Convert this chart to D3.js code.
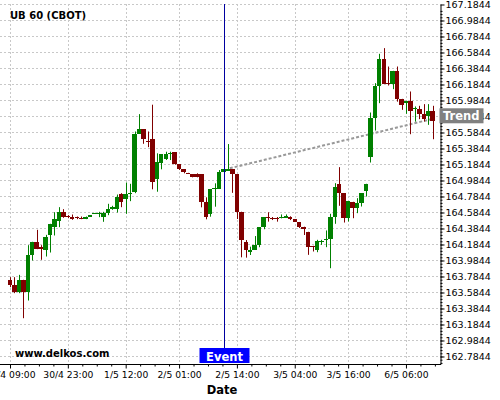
<!DOCTYPE html>
<html>
<head>
<meta charset="utf-8">
<script src="https://cdn.jsdelivr.net/npm/d3@7"></script>
<style>
body { margin: 0; background: #fff; }
text { font-family: "DejaVu Sans", sans-serif; }
</style>
</head>
<body>
<div id="chart"></div>
<script>
// candle values (hourly bars, index based x axis)
var opens = [163.743,163.684,163.592,163.743,163.592,164.055,164.218,164.155,164.118,164.309,
  164.409,164.472,164.593,164.543,164.534,164.526,164.518,164.509,164.534,164.576,
  164.576,164.534,164.576,164.634,164.634,164.818,164.759,164.826,164.843,165.568,
  165.626,165.476,165.503,165.003,165.199,165.253,165.318,165.337,165.191,165.128,
  165.078,165.065,165.065,165.065,164.719,164.565,164.882,164.878,165.094,165.103,
  165.124,165.065,164.594,164.216,164.094,164.119,164.178,164.403,164.528,164.520,
  164.520,164.511,164.520,164.528,164.503,164.466,164.407,164.343,164.168,164.117,
  164.228,164.247,164.251,164.534,164.943,164.826,164.513,164.718,164.638,164.701,
  164.847,165.284,165.763,166.168,166.505,166.205,166.193,166.355,166.005,165.951,
  165.980,165.880,165.876,165.818,165.793,165.855];
var highs = [163.776,163.776,163.805,163.743,164.176,164.218,164.368,164.176,164.305,164.443,
  164.588,164.651,164.626,164.551,164.559,164.534,164.534,164.534,164.550,164.580,
  164.593,164.593,164.693,164.668,164.809,164.826,164.959,164.943,165.597,165.814,
  165.626,165.597,165.932,165.324,165.312,165.344,165.344,165.337,165.191,165.128,
  165.080,165.065,165.074,165.065,164.774,164.878,164.949,165.115,165.128,165.440,
  165.124,165.065,164.594,164.240,164.157,164.290,164.403,164.528,164.587,164.528,
  164.528,164.560,164.560,164.537,164.503,164.466,164.407,164.343,164.168,164.243,
  164.243,164.360,164.568,164.951,165.151,164.826,164.722,164.718,164.763,164.826,
  164.943,165.834,166.201,166.568,166.639,166.409,166.355,166.409,166.005,165.980,
  166.097,165.910,165.918,165.939,165.939,165.918];
var lows = [163.651,163.576,163.576,163.263,163.484,163.984,164.126,163.993,164.034,164.084,
  164.297,164.401,164.518,164.513,164.493,164.501,164.501,164.501,164.530,164.574,
  164.526,164.468,164.551,164.618,164.584,164.651,164.568,164.726,164.826,165.568,
  165.443,165.401,164.874,164.844,165.124,165.241,165.240,165.182,165.116,165.074,
  165.070,165.024,165.024,164.649,164.499,164.532,164.657,164.878,165.094,165.103,
  164.830,164.503,164.024,164.020,164.053,164.119,164.150,164.375,164.470,164.490,
  164.470,164.511,164.520,164.490,164.466,164.390,164.303,164.055,164.097,164.088,
  164.180,164.151,163.888,164.443,164.668,164.459,164.472,164.513,164.576,164.659,
  164.784,165.209,165.609,165.951,166.193,166.172,166.126,165.970,165.868,165.818,
  165.563,165.720,165.751,165.722,165.680,165.500];
var closes = [163.684,163.592,163.743,163.592,164.055,164.218,164.126,164.126,164.284,164.443,
  164.509,164.593,164.534,164.530,164.509,164.513,164.509,164.534,164.547,164.578,
  164.578,164.576,164.634,164.651,164.776,164.718,164.818,164.834,165.568,165.626,
  165.509,165.468,164.969,165.219,165.312,165.312,165.324,165.191,165.128,165.090,
  165.074,165.032,165.032,164.719,164.532,164.878,164.887,165.094,165.128,165.128,
  165.065,164.594,164.241,164.119,164.119,164.178,164.403,164.528,164.511,164.507,
  164.507,164.528,164.537,164.503,164.466,164.407,164.374,164.159,164.159,164.222,
  164.232,164.251,164.534,164.909,164.826,164.513,164.722,164.638,164.701,164.826,
  164.943,165.763,166.168,166.505,166.193,166.200,166.355,166.005,165.922,165.980,
  165.859,165.893,165.818,165.755,165.855,165.734];

var xTickIndex = [0, 13, 26, 38, 51, 64, 76, 89];
var xTickLabels = ["30/4 09:00", "30/4 23:00", "1/5 12:00", "2/5 01:00", "2/5 14:00", "3/5 04:00", "3/5 16:00", "6/5 06:00"];
var yTickValues = [162.7844, 162.9844, 163.1844, 163.3844, 163.5844, 163.7844, 163.9844, 164.1844,
  164.3844, 164.5844, 164.7844, 164.9844, 165.1844, 165.3844, 165.5844, 165.7844, 165.9844,
  166.1844, 166.3844, 166.5844, 166.7844, 166.9844, 167.1844];

var eventIndex = 48;
var trendIndex = [49.4, 95.5];
var trendPrice = [165.137, 165.762];

var width = 500, height = 400,
    plotLeft = 0, plotRight = 440, plotTop = 4, plotBottom = 364;

var svg = d3.select("#chart").append("svg")
    .attr("width", width)
    .attr("height", height);

var xScale = d3.scaleLinear().domain([0, 95]).range([10, 432.66]);
var yScale = d3.scaleLinear().domain([162.6906, 167.1906]).range([plotBottom, plotTop]);

var data = opens.map(function(o, i) {
    return {i: i, o: o, h: highs[i], l: lows[i], c: closes[i]};
});

// grid
var grid = svg.append("g").attr("class", "grid");
grid.selectAll(".hgrid")
    .data(yTickValues)
    .enter().append("line")
    .attr("x1", plotLeft).attr("x2", plotRight)
    .attr("y1", function(d) { return Math.round(yScale(d)) + 0.5; })
    .attr("y2", function(d) { return Math.round(yScale(d)) + 0.5; })
    .attr("stroke", "#c8c8c8")
    .attr("stroke-dasharray", "2,2");
grid.selectAll(".vgrid")
    .data(xTickIndex)
    .enter().append("line")
    .attr("x1", function(d) { return Math.round(xScale(d)) + 0.5; })
    .attr("x2", function(d) { return Math.round(xScale(d)) + 0.5; })
    .attr("y1", plotTop).attr("y2", plotBottom)
    .attr("stroke", "#c8c8c8")
    .attr("stroke-dasharray", "2,2");

// trend line
svg.append("line")
    .attr("x1", xScale(trendIndex[0])).attr("y1", yScale(trendPrice[0]))
    .attr("x2", xScale(trendIndex[1])).attr("y2", yScale(trendPrice[1]))
    .attr("stroke", "#999")
    .attr("stroke-width", 2)
    .attr("stroke-dasharray", "3,2");

// candles
var bw = 4.4;
var candle = svg.append("g").selectAll(".candle")
    .data(data)
    .enter().append("g")
    .attr("class", "candle");

candle.append("line")
    .attr("x1", function(d) { return Math.round(xScale(d.i)) + 0.5; })
    .attr("x2", function(d) { return Math.round(xScale(d.i)) + 0.5; })
    .attr("y1", function(d) { return yScale(d.h); })
    .attr("y2", function(d) { return yScale(d.l); })
    .attr("stroke", function(d) { return d.c >= d.o ? "#008000" : "#800000"; });

candle.append("rect")
    .attr("x", function(d) { return xScale(d.i) - bw / 2; })
    .attr("y", function(d) { return yScale(Math.max(d.o, d.c)); })
    .attr("width", bw)
    .attr("height", function(d) { return Math.max(1, Math.abs(yScale(d.o) - yScale(d.c))); })
    .attr("fill", function(d) { return d.c >= d.o ? "#008000" : "#800000"; })
    .attr("shape-rendering", "crispEdges");

// event line
var ex = Math.round(xScale(eventIndex)) + 0.5;
svg.append("line")
    .attr("x1", ex).attr("x2", ex)
    .attr("y1", plotTop).attr("y2", 348)
    .attr("stroke", "#0000a0");

// y axis on the right
var yAxis = svg.append("g")
    .attr("class", "y axis")
    .attr("transform", "translate(" + (plotRight + 0.5) + ",0)")
    .call(d3.axisRight(yScale).tickValues(yTickValues).tickFormat(d3.format(".4f"))
        .tickSize(4).tickSizeOuter(0).tickPadding(1));
yAxis.selectAll("text").attr("font-size", "9.5px").attr("font-family", "DejaVu Sans, sans-serif");

var yMinor = d3.range(0, 111).map(function(k) { return 162.7044 + k * 0.04; });
svg.append("g")
    .attr("transform", "translate(" + (plotRight + 0.5) + ",0)")
    .call(d3.axisRight(yScale).tickValues(yMinor.filter(function(v) { return v < 167.19; }))
        .tickFormat("").tickSize(2).tickSizeOuter(0))
    .select(".domain").remove();

// x axis at the bottom
var xAxis = svg.append("g")
    .attr("class", "x axis")
    .attr("transform", "translate(0," + (plotBottom + 0.5) + ")")
    .call(d3.axisBottom(xScale).tickValues(xTickIndex)
        .tickFormat(function(d, i) { return xTickLabels[i]; })
        .tickSize(4).tickSizeOuter(0));
xAxis.select(".domain").remove();
xAxis.selectAll("text").attr("font-size", "9.2px").attr("font-family", "DejaVu Sans, sans-serif");

var xMinor = [];
xTickIndex.forEach(function(t) {
    for (var k = 1; k < 4; k++) xMinor.push(t + k * 13 / 4);
});
svg.append("g")
    .attr("transform", "translate(0," + (plotBottom + 0.5) + ")")
    .call(d3.axisBottom(xScale).tickValues(xMinor.filter(function(v) { return v < 97; }))
        .tickFormat("").tickSize(2).tickSizeOuter(0))
    .select(".domain").remove();

svg.append("line")
    .attr("x1", plotLeft).attr("x2", plotRight + 1)
    .attr("y1", plotBottom + 0.5).attr("y2", plotBottom + 0.5)
    .attr("stroke", "#000");

// labels
svg.append("text")
    .attr("x", 10).attr("y", 19)
    .attr("font-size", "10px").attr("font-weight", "bold")
    .text("UB 60 (CBOT)");

svg.append("text")
    .attr("x", 15).attr("y", 357)
    .attr("font-size", "10px").attr("font-weight", "bold")
    .text("www.delkos.com");

svg.append("rect")
    .attr("x", ex - 25).attr("y", 348)
    .attr("width", 50).attr("height", 15)
    .attr("fill", "#0000ff");
svg.append("text")
    .attr("x", ex).attr("y", 360.5)
    .attr("text-anchor", "middle")
    .attr("font-size", "11.5px").attr("font-weight", "bold")
    .attr("fill", "#fff")
    .text("Event");

var ty = yScale(trendPrice[1]) - 2.5;
svg.append("rect")
    .attr("x", plotRight - 0.5).attr("y", ty - 7.5)
    .attr("width", 44).attr("height", 15)
    .attr("fill", "#808080");
svg.append("text")
    .attr("x", plotRight + 3).attr("y", ty + 4.5)
    .attr("font-size", "11.5px").attr("font-weight", "bold")
    .attr("fill", "#fff")
    .text("Trend");

svg.append("text")
    .attr("x", 222).attr("y", 393.5)
    .attr("text-anchor", "middle")
    .attr("font-size", "11.5px").attr("font-weight", "bold")
    .text("Date");
</script>
</body>
</html>
